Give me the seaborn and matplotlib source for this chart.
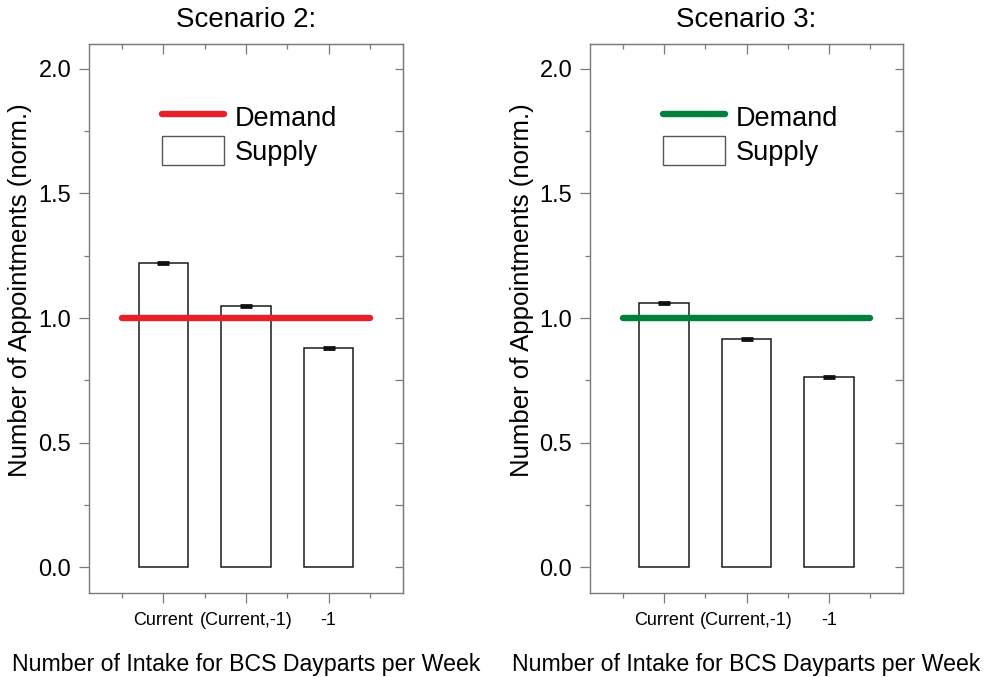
import matplotlib
matplotlib.use("Agg")
import matplotlib.pyplot as plt
import seaborn as sns
import pandas as pd
import numpy as np
from matplotlib.lines import Line2D
from matplotlib.patches import Patch
from matplotlib.ticker import MultipleLocator, FixedLocator

categories = ["Current", "(Current,-1)", "-1"]
supply_s2 = [1.221, 1.050, 0.879]
supply_s3 = [1.062, 0.914, 0.765]
err_s2 = [0.004, 0.004, 0.004]
err_s3 = [0.004, 0.004, 0.004]
demand = 1.0
titles = ["Scenario 2:", "Scenario 3:"]
demand_colors = ["#e8202a", "#00803c"]

sns.set_style("white")
plt.rcParams["font.family"] = ["Liberation Sans", "DejaVu Sans"]
plt.rcParams["text.color"] = "black"
plt.rcParams["axes.labelcolor"] = "black"
plt.rcParams["xtick.labelcolor"] = "black"
plt.rcParams["ytick.labelcolor"] = "black"

fig = plt.figure(figsize=(9.88, 6.77), dpi=100)
positions = [[89/988, 84/677, 314/988, 549/677],
             [590/988, 84/677, 313/988, 549/677]]

spine_col = "#7a7a7a"
datasets = [(supply_s2, err_s2), (supply_s3, err_s3)]

for i in range(2):
    ax = fig.add_axes(positions[i])
    vals, errs = datasets[i]
    df = pd.DataFrame({"cat": categories, "val": vals})
    sns.barplot(data=df, x="cat", y="val", color="white", edgecolor="#1a1a1a",
                linewidth=1.1, width=0.6, ax=ax, saturation=1)
    xs = np.arange(len(categories))
    ax.errorbar(xs, vals, yerr=errs, fmt="none", ecolor="#111111",
                elinewidth=1.0, capsize=4.0, capthick=2.0)
    ax.hlines(demand, -0.5, len(categories) - 0.5, color=demand_colors[i],
              linewidth=4.6, capstyle="round", zorder=5)
    ax.set_xlim(-0.9, len(categories) - 0.1)
    ax.set_ylim(-0.104, 2.1)
    ax.yaxis.set_major_locator(MultipleLocator(0.5))
    ax.yaxis.set_minor_locator(MultipleLocator(0.25))
    ax.xaxis.set_minor_locator(FixedLocator(list(np.arange(-0.5, len(categories), 1.0))))
    ax.set_yticklabels([f"{v:.1f}" for v in ax.get_yticks()])
    for s in ax.spines.values():
        s.set_visible(True)
        s.set_color(spine_col)
        s.set_linewidth(1.0)
    ax.tick_params(axis="y", which="major", direction="out", length=7.2, width=0.9,
                   color=spine_col, labelsize=17, pad=5.5, left=True)
    ax.tick_params(axis="y", which="minor", direction="out", length=3.8, width=0.9,
                   color=spine_col, left=True)
    ax.tick_params(axis="x", which="major", direction="out", length=7.2, width=0.9,
                   color=spine_col, labelsize=13, pad=6.5, bottom=True)
    ax.tick_params(axis="x", which="minor", direction="out", length=3.8, width=0.9,
                   color=spine_col, bottom=True)
    # inner ticks on top and right
    secx = ax.secondary_xaxis("top")
    secx.set_xticks(xs)
    secx.xaxis.set_minor_locator(FixedLocator(list(np.arange(-0.5, len(categories), 1.0))))
    secx.tick_params(axis="x", which="major", direction="in", length=7.2, width=0.9,
                     color=spine_col, labeltop=False)
    secx.tick_params(axis="x", which="minor", direction="in", length=3.8, width=0.9,
                     color=spine_col)
    secx.spines["top"].set_color(spine_col)
    secy = ax.secondary_yaxis("right")
    secy.yaxis.set_major_locator(MultipleLocator(0.5))
    secy.yaxis.set_minor_locator(MultipleLocator(0.25))
    secy.tick_params(axis="y", which="both", direction="in", length=6, width=0.9,
                     color=spine_col, labelright=False)
    secy.spines["right"].set_color(spine_col)

    ax.set_title(titles[i], fontsize=20, pad=12, color="black")
    ax.set_ylabel("Number of Appointments (norm.)", fontsize=18.5)
    ax.yaxis.set_label_coords(-0.18, 0.552)
    ax.set_xlabel("Number of Intake for BCS Dayparts per Week", fontsize=16.7, labelpad=17)

    handles = [Line2D([0], [0], color=demand_colors[i], linewidth=4.6, solid_capstyle="round"),
               Patch(facecolor="white", edgecolor="#555555", linewidth=1.0)]
    ax.legend(handles, ["Demand", "Supply"], loc="upper left",
              bbox_to_anchor=(0.232, 0.894), frameon=False, fontsize=19.5,
              handlelength=2.3, handleheight=1.25, handletextpad=0.4,
              labelspacing=0.18, borderpad=0, borderaxespad=0)

fig.savefig("out.png", dpi=100)
